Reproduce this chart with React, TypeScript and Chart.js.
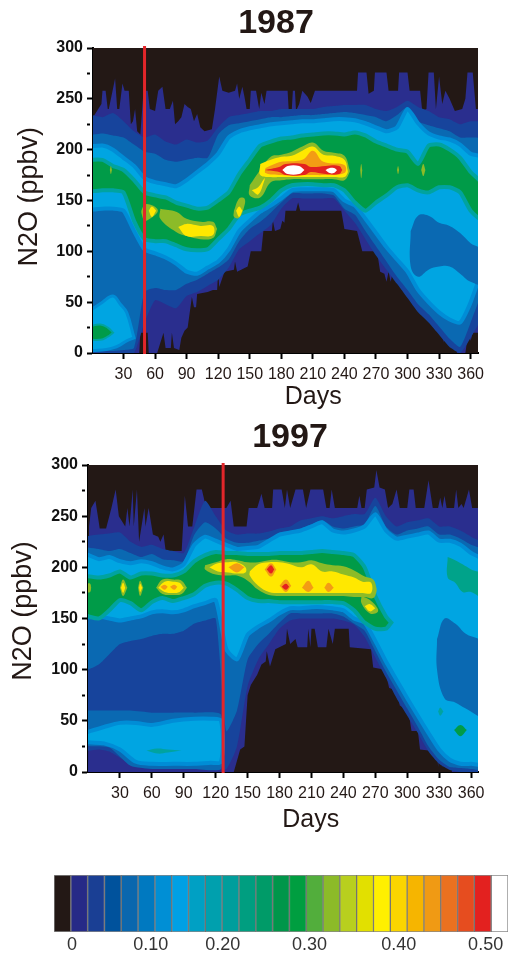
import React, { useEffect, useRef } from "react";
import { Chart, registerables } from "chart.js";

Chart.register(...registerables);

const FONT = "'Liberation Sans', Arial, sans-serif";
const INK = "#231815";

const dayTicks = [30, 60, 90, 120, 150, 180, 210, 240, 270, 300, 330, 360];
const gridDays = [-4, 10, 20, 30, 40, 50, 60, 70, 80, 90, 100, 110, 120, 130, 140, 150, 160, 170, 180, 190, 200, 210, 220, 230, 240, 250, 260, 270, 280, 290, 300, 310, 320, 330, 340, 350, 360, 372];

const COLOR = {
  black: "#231815", navy: "#2a2e8e", deep: "#17449c", mid: "#0a69b2", sky: "#00a5e2", skyEdge: "#008dd6",
  green: "#009b48", teal: "#00a3a0", lime: "#8cbb28", yellow: "#ffe800", orange: "#f39c14", red: "#e3211f", white: "#ffffff",
};

// 1987 contour bands
const navyTopDays87 = [1, 3, 9, 10, 13, 15, 16, 22, 24, 26, 29, 31, 35, 37, 39, 41, 43, 46, 49, 53, 55, 60, 63, 67, 70, 74, 77, 79, 82, 85, 88, 91, 94, 97, 100, 103, 107, 114, 117, 121, 124, 130, 136, 138, 140, 143, 145, 147, 150, 151, 156, 159, 161, 164, 166, 186, 187, 190, 191, 193, 194, 197, 200, 205, 208, 212, 252, 253, 261, 263, 268, 269, 280, 282, 291, 292, 300, 302, 312, 314, 318, 320, 325, 327, 330, 333, 336, 340, 345, 352, 355, 357, 362, 365, 367];
const navyTop87 = [232, 235, 245, 258, 258, 240, 240, 270, 240, 240, 265, 258, 258, 225, 228, 240, 218, 215, 258, 258, 240, 238, 258, 262, 240, 240, 248, 225, 228, 232, 245, 242, 240, 228, 235, 222, 218, 220, 240, 272, 258, 256, 258, 265, 250, 262, 252, 240, 240, 258, 258, 240, 256, 245, 258, 258, 240, 240, 258, 258, 238, 245, 258, 252, 246, 258, 258, 276, 276, 255, 258, 276, 276, 258, 258, 276, 276, 258, 258, 238, 240, 276, 276, 240, 272, 245, 258, 250, 238, 240, 250, 276, 276, 240, 240];
const navyBottomDays87 = [1, 45, 46, 53, 54, 62, 68, 70, 75, 76, 78, 83, 85, 88, 91, 95, 97, 99, 100, 110, 115, 119, 120, 121, 126, 135, 136, 138, 148, 151, 161, 163, 171, 172, 174, 179, 181, 183, 184, 194, 196, 198, 237, 240, 252, 257, 271, 274, 278, 280, 282, 284, 286, 294, 296, 298, 300, 311, 316, 324, 325, 327, 329, 333, 334, 335, 338, 340, 341, 343, 345, 347, 355, 358, 360, 362, 367];
const navyBottom87 = [0, 0, 20, 20, 0, 0, 20, 5, 5, 20, 5, 3, 15, 22, 25, 55, 45, 45, 58, 60, 62, 62, 80, 65, 80, 82, 90, 80, 85, 100, 100, 120, 120, 130, 120, 122, 130, 128, 140, 140, 148, 140, 140, 122, 120, 100, 100, 80, 78, 70, 80, 70, 80, 80, 65, 80, 60, 60, 40, 40, 25, 38, 20, 20, 10, 20, 20, 5, 18, 5, 20, 0, 0, 22, 12, 20, 20];

const deepTop87 = [235, 232, 236, 228, 218, 212, 215, 208, 205, 210, 207, 209, 222, 232, 234, 236, 238, 238, 240, 240, 240, 240, 242, 243, 244, 244, 244, 240, 238, 242, 248, 242, 238, 232, 230, 225, 228, 226];
const deepBottom87 = [0, 0, 0, 0, 0, 30, 52, 48, 44, 56, 60, 66, 72, 84, 102, 110, 118, 126, 142, 152, 152, 152, 152, 152, 140, 128, 112, 96, 82, 68, 54, 40, 30, 18, 6, 0, 15, 40];
const midTop87 = [214, 216, 214, 212, 205, 198, 196, 190, 188, 190, 192, 192, 215, 224, 226, 228, 230, 232, 232, 233, 234, 234, 235, 236, 237, 236, 234, 232, 228, 234, 242, 228, 224, 221, 218, 212, 212, 210];
const midBottom87 = [2, 2, 2, 3, 5, 60, 64, 62, 62, 68, 72, 78, 84, 92, 110, 122, 129, 138, 148, 157, 157, 157, 157, 155, 142, 136, 120, 105, 90, 75, 62, 48, 38, 26, 14, 6, 30, 68];
const skyTop87 = [203, 204, 200, 192, 184, 172, 168, 166, 164, 170, 178, 186, 196, 212, 218, 221, 223, 225, 226, 227, 228, 228, 229, 230, 230, 229, 226, 222, 218, 222, 240, 226, 216, 212, 210, 205, 196, 192];
const skyBottom87 = [142, 142, 142, 140, 120, 102, 98, 94, 88, 80, 78, 84, 90, 102, 120, 130, 139, 145, 152, 160, 161, 161, 161, 160, 150, 145, 132, 118, 104, 92, 80, 62, 50, 40, 33, 30, 50, 90];
const greenTop87 = [190, 190, 184, 180, 170, 158, 155, 153, 148, 145, 142, 143, 150, 158, 176, 190, 204, 208, 211, 212, 214, 215, 216, 216, 215, 217, 214, 208, 204, 200, 198, 186, 204, 205, 200, 192, 178, 165];
const greenBottom87 = [160, 160, 160, 158, 130, 112, 110, 110, 106, 102, 101, 102, 112, 122, 136, 140, 143, 150, 160, 165, 166, 166, 165, 165, 160, 148, 140, 148, 155, 163, 165, 160, 158, 163, 163, 158, 140, 130];

const holeDays87 = [303, 310, 320, 330, 340, 350, 360, 372];
const holeTop87 = [120, 135, 135, 128, 125, 118, 108, 100];
const holeBottom87 = [85, 75, 82, 85, 85, 78, 70, 68];
const lowSkyDays87 = [-4, 10, 20, 27, 33, 40];
const lowSkyTop87 = [40, 50, 56, 48, 40, 15];
const lowSkyBottom87 = [5, 3, 5, 8, 12, 15];
const lowGreenDays87 = [-4, 8, 15, 20];
const lowGreenTop87 = [26, 28, 25, 20];
const lowGreenBottom87 = [15, 13, 16, 20];

const blobs87: [keyof typeof COLOR, number[], number[], number[]][] = [
  ["lime", [47, 50, 55, 62], [140, 146, 146, 142], [138, 130, 132, 138]],
  ["yellow", [54, 57, 61], [140, 144, 140], [140, 134, 140]],
  ["lime", [65, 80, 90, 103, 115, 119], [142, 139, 132, 129, 129, 122], [132, 119, 115, 112, 113, 122]],
  ["yellow", [82, 90, 103, 115], [124, 127, 125, 125], [124, 115, 115, 116]],
  ["lime", [135, 140, 145], [140, 152, 152], [134, 133, 145]],
  ["yellow", [137, 140, 143], [140, 144, 140], [140, 134, 140]],
  ["lime", [150, 160, 170, 180, 190, 200, 210, 220, 230, 240, 245], [165, 180, 193, 195, 198, 203, 207, 199, 197, 194, 180], [155, 153, 168, 170, 171, 171, 171, 171, 171, 170, 178]],
  ["yellow", [152, 158, 164], [160, 163, 172], [160, 156, 170]],
  ["yellow", [160, 170, 180, 190, 200, 210, 220, 230, 240, 243], [186, 190, 193, 194, 199, 203, 195, 194, 190, 180], [175, 173, 173, 173, 173, 173, 173, 173, 173, 177]],
  ["orange", [165, 180, 200, 210, 220, 240], [182, 188, 190, 199, 188, 185], [177, 175, 175, 175, 175, 177]],
  ["red", [164, 178, 184, 202, 208, 222, 235, 238], [180, 183, 186, 186, 183, 184, 184, 180], [180, 178, 175, 175, 178, 176, 176, 180]],
  ["white", [181, 186, 197, 202], [180, 184, 184, 180], [180, 176, 176, 180]],
  ["white", [222, 226, 230, 233], [180, 182, 182, 180], [180, 177, 177, 180]],
  ["lime", [17, 18, 19], [180, 184, 180], [180, 176, 180]],
  ["lime", [255, 256, 257], [180, 186, 180], [180, 172, 180]],
  ["lime", [290, 291, 292], [180, 184, 180], [180, 176, 180]],
  ["lime", [313, 315, 317], [180, 186, 180], [180, 174, 180]],
];

const redDay87 = [50, 50];
const redDay97 = [127, 127];
const redValues = [-1, 302];

// 1997 contour bands
const navyTopDays97 = [1, 3, 7, 10, 11, 17, 22, 26, 29, 35, 37, 39, 42, 43, 46, 48, 53, 54, 57, 61, 66, 68, 71, 73, 88, 91, 94, 98, 102, 107, 111, 130, 134, 137, 149, 151, 159, 163, 166, 173, 174, 182, 185, 187, 190, 195, 202, 205, 209, 221, 224, 227, 229, 232, 253, 255, 257, 260, 262, 269, 271, 274, 279, 282, 286, 290, 293, 300, 302, 306, 308, 316, 320, 324, 329, 331, 333, 335, 337, 344, 346, 348, 351, 353, 358, 361, 367];
const navyTop97 = [240, 258, 265, 245, 238, 238, 258, 276, 250, 240, 258, 240, 276, 240, 276, 225, 258, 240, 258, 232, 230, 225, 232, 216, 216, 270, 240, 240, 276, 276, 258, 258, 265, 240, 240, 258, 258, 272, 258, 258, 276, 276, 258, 276, 258, 276, 276, 258, 276, 276, 258, 258, 276, 258, 258, 270, 258, 258, 276, 278, 295, 278, 276, 258, 262, 276, 258, 258, 276, 276, 258, 258, 285, 258, 258, 268, 258, 270, 258, 258, 276, 258, 262, 258, 276, 258, 258];
const navyBottomDays97 = [0, 137, 143, 147, 150, 153, 159, 163, 167, 168, 171, 176, 186, 187, 190, 195, 197, 206, 207, 209, 210, 213, 216, 224, 226, 230, 232, 245, 246, 266, 268, 279, 283, 290, 293, 301, 304, 310, 312, 328, 329, 330, 333, 334, 337, 338, 340, 342, 367];
const navyBottom97 = [0, 0, 22, 25, 75, 85, 95, 105, 108, 118, 103, 120, 125, 140, 125, 130, 122, 122, 140, 122, 140, 140, 122, 122, 140, 125, 140, 140, 122, 120, 102, 100, 82, 80, 65, 60, 40, 40, 22, 20, 5, 20, 5, 20, 5, 20, 20, 0, 0];

const deepTop97 = [230, 232, 233, 234, 225, 220, 222, 218, 216, 214, 240, 265, 250, 236, 232, 233, 233, 235, 238, 240, 246, 248, 250, 248, 250, 252, 252, 268, 250, 240, 244, 246, 248, 240, 240, 236, 230, 222];
const deepBottom97 = [22, 22, 20, 14, 8, 4, 3, 3, 3, 3, 3, 3, 3, 3, 25, 84, 110, 125, 140, 148, 150, 150, 150, 150, 148, 144, 132, 112, 92, 72, 55, 38, 20, 8, 2, 0, 0, 0];
const midTop97 = [220, 218, 216, 218, 214, 210, 213, 208, 207, 206, 232, 244, 238, 228, 224, 224, 226, 228, 232, 234, 238, 242, 246, 240, 238, 240, 242, 260, 240, 232, 236, 238, 240, 232, 232, 228, 222, 216];
const midBottom97 = [100, 105, 115, 125, 128, 130, 133, 135, 135, 138, 145, 148, 150, 40, 60, 110, 125, 135, 146, 155, 155, 155, 155, 155, 152, 145, 138, 118, 98, 80, 62, 44, 25, 12, 5, 4, 3, 3];
const skyTop97 = [214, 208, 210, 206, 204, 206, 204, 200, 198, 203, 222, 230, 226, 222, 218, 219, 220, 226, 232, 234, 236, 240, 244, 236, 234, 236, 240, 252, 236, 228, 230, 232, 234, 226, 226, 222, 214, 206];
const skyBottom97 = [152, 152, 150, 148, 150, 152, 156, 157, 156, 158, 162, 165, 168, 120, 110, 134, 142, 148, 155, 160, 160, 161, 161, 160, 158, 150, 146, 128, 108, 90, 72, 55, 38, 22, 12, 8, 8, 8];
const greenDays97 = [-4, 10, 20, 30, 40, 50, 60, 70, 80, 90, 100, 110, 120, 130, 140, 150, 160, 170, 180, 190, 200, 210, 220, 230, 240, 250, 260, 270, 280, 285];
const greenTop97 = [192, 190, 192, 196, 190, 194, 194, 192, 192, 196, 206, 212, 215, 214, 214, 213, 213, 213, 214, 214, 214, 215, 216, 215, 214, 212, 200, 172, 152, 146];
const greenBottom97 = [155, 150, 158, 168, 165, 158, 166, 170, 167, 170, 174, 182, 185, 184, 178, 170, 167, 167, 166, 166, 166, 166, 166, 166, 165, 158, 146, 140, 140, 146];

const holeDays97 = [328, 335, 345, 355, 372];
const holeTop97 = [130, 150, 145, 135, 125];
const holeBottom97 = [100, 72, 68, 62, 55];
const lowMidDays97 = [-4, 20, 40, 60, 80, 100, 125];
const lowMidTop97 = [60, 60, 60, 58, 58, 58, 56];
const lowMidBottom97 = [27, 24, 6, 3, 3, 3, 3];
const lowSkyDays97 = [-4, 15, 30, 45, 60, 80, 100, 115, 125];
const lowSkyTop97 = [38, 44, 48, 48, 46, 50, 52, 52, 50];
const lowSkyBottom97 = [30, 28, 22, 10, 8, 8, 8, 9, 10];
const sideGreenDays97 = [338, 345, 352, 360, 372];
const sideGreenTop97 = [210, 207, 203, 198, 192];
const sideGreenBottom97 = [190, 185, 176, 176, 170];

const blobs97: [keyof typeof COLOR, number[], number[], number[]][] = [
  ["teal", [55, 65, 75, 88], [21, 23, 22, 21], [21, 18, 19, 21]],
  ["teal", [329, 331, 334], [59, 63, 59], [59, 55, 59]],
  ["green", [344, 350, 356], [41, 46, 41], [41, 35, 41]],
  ["lime", [-2, 2, 3], [184, 184, 180], [176, 176, 180]],
  ["lime", [30, 33, 37], [180, 188, 180], [180, 172, 180]],
  ["yellow", [31, 33, 35], [180, 185, 180], [180, 175, 180]],
  ["lime", [47, 49, 52], [180, 187, 180], [180, 172, 180]],
  ["yellow", [48, 49, 51], [180, 184, 180], [180, 176, 180]],
  ["lime", [64, 70, 80, 88, 93], [180, 188, 188, 187, 180], [180, 174, 173, 174, 180]],
  ["yellow", [66, 72, 80, 86, 90], [180, 186, 186, 185, 180], [180, 176, 175, 176, 180]],
  ["orange", [68, 72, 75], [181, 183, 181], [181, 178, 181]],
  ["orange", [77, 81, 84], [181, 183, 181], [181, 178, 181]],
  ["lime", [110, 120, 130, 140, 150, 160, 170, 180, 190, 200, 210, 220, 230, 240, 250, 260, 268, 271], [202, 205, 208, 207, 205, 205, 207, 207, 205, 205, 207, 204, 202, 201, 197, 191, 188, 180], [198, 193, 192, 192, 187, 178, 173, 172, 172, 172, 172, 172, 172, 172, 171, 171, 170, 176]],
  ["lime", [257, 265, 272], [172, 168, 160], [165, 155, 156]],
  ["yellow", [260, 265, 270], [162, 164, 160], [162, 157, 160]],
  ["yellow", [114, 122, 132, 140, 148], [200, 204, 205, 205, 200], [200, 196, 195, 194, 195]],
  ["yellow", [152, 160, 170, 180, 190, 200, 210, 220, 230, 240, 250, 258, 266], [196, 203, 205, 205, 203, 200, 203, 196, 196, 193, 190, 186, 185], [192, 182, 176, 175, 175, 175, 175, 175, 175, 175, 175, 175, 175]],
  ["orange", [132, 140, 147], [200, 204, 200], [200, 195, 200]],
  ["orange", [166, 172, 177], [198, 204, 198], [198, 191, 198]],
  ["orange", [180, 186, 191], [182, 188, 182], [182, 176, 182]],
  ["orange", [201, 207, 212], [180, 187, 180], [180, 176, 180]],
  ["orange", [222, 226, 231], [180, 185, 180], [180, 176, 180]],
  ["red", [168, 172, 175], [198, 202, 198], [198, 194, 198]],
  ["red", [182, 186, 189], [181, 184, 181], [181, 178, 181]],
];

const scaleColors = ["#231815", "#262a87", "#1a3f94", "#00529c", "#0a67ae", "#0079c0", "#008fd5", "#00a0e4", "#00a0c4", "#00a0ae", "#009e9c", "#009e80", "#009b68", "#00964a", "#009e40", "#52ae3c", "#8cbb28", "#b8cf1e", "#e2e000", "#fff000", "#fbd500", "#f6b500", "#f09a14", "#ea7120", "#e64d1f", "#e3211f", "#ffffff"];
const scaleTickSlots = [1.07, 5.76, 10.04, 15.2, 20.5, 25.67];
const scaleTickLabels = ["0", "0.10", "0.20", "0.30", "0.40", "0.50"];

function band(color: string, topDays: number[], top: number[], bottomDays: number[], bottom: number[], edge?: string, edgeWidth = 0, tension = 0) {
  const upper = topDays.map((x, i) => ({ x, y: top[i] }));
  const lower = bottomDays.map((x, i) => ({ x, y: bottom[i] })).reverse();
  return {
    data: [...upper, ...lower, upper[0]],
    fill: "shape",
    backgroundColor: color,
    borderColor: edge ?? color,
    borderWidth: edge ? edgeWidth : 0,
    pointRadius: 0,
    tension,
  };
}

function redLine(days: number[]) {
  return {
    data: days.map((x, i) => ({ x, y: redValues[i] })),
    fill: false,
    borderColor: "#e2262a",
    borderWidth: 3,
    pointRadius: 0,
    clip: false,
  };
}

const blobLayers = (blobs: typeof blobs87) => blobs.map(([c, d, t, b]) => band(COLOR[c], d, t, d, b, undefined, 0, 0.4));

const layers87 = [
  band(COLOR.black, [-4, 372], [300, 300], [-4, 372], [0, 0]),
  band(COLOR.navy, navyTopDays87, navyTop87, navyBottomDays87, navyBottom87),
  band(COLOR.deep, gridDays, deepTop87, gridDays, deepBottom87, undefined, 0, 0.2),
  band(COLOR.mid, gridDays, midTop87, gridDays, midBottom87, undefined, 0, 0.2),
  band(COLOR.sky, gridDays, skyTop87, gridDays, skyBottom87, COLOR.skyEdge, 4, 0.2),
  band(COLOR.mid, holeDays87, holeTop87, holeDays87, holeBottom87, undefined, 0, 0.4),
  band(COLOR.sky, lowSkyDays87, lowSkyTop87, lowSkyDays87, lowSkyBottom87, COLOR.skyEdge, 3, 0.4),
  band(COLOR.green, lowGreenDays87, lowGreenTop87, lowGreenDays87, lowGreenBottom87, COLOR.teal, 2, 0.4),
  band(COLOR.green, gridDays, greenTop87, gridDays, greenBottom87, COLOR.teal, 4, 0.2),
  ...blobLayers(blobs87),
  redLine(redDay87),
];

const layers97 = [
  band(COLOR.black, [-4, 372], [300, 300], [-4, 372], [0, 0]),
  band(COLOR.navy, navyTopDays97, navyTop97, navyBottomDays97, navyBottom97),
  band(COLOR.deep, gridDays, deepTop97, gridDays, deepBottom97, undefined, 0, 0.2),
  band(COLOR.mid, gridDays, midTop97, gridDays, midBottom97, undefined, 0, 0.2),
  band(COLOR.sky, gridDays, skyTop97, gridDays, skyBottom97, COLOR.skyEdge, 4, 0.2),
  band(COLOR.mid, holeDays97, holeTop97, holeDays97, holeBottom97, undefined, 0, 0.4),
  band(COLOR.mid, lowMidDays97, lowMidTop97, lowMidDays97, lowMidBottom97, undefined, 0, 0.2),
  band(COLOR.sky, lowSkyDays97, lowSkyTop97, lowSkyDays97, lowSkyBottom97, COLOR.skyEdge, 4, 0.3),
  band(COLOR.green, greenDays97, greenTop97, greenDays97, greenBottom97, COLOR.teal, 4, 0.2),
  band("#00a38a", sideGreenDays97, sideGreenTop97, sideGreenDays97, sideGreenBottom97, undefined, 0, 0.4),
  ...blobLayers(blobs97),
  redLine(redDay97),
];

type PanelProps = {
  title: string; layers: any[]; minDay: number; maxDay: number; top: number; width: number; height: number;
  axisWidth: number; axisHeight: number; rightPad: number; titleTop: number; titleBottom: number; yTitlePad: number; xTitlePad: number; yText: string;
};

function Panel(p: PanelProps) {
  const ref = useRef<HTMLCanvasElement>(null);
  useEffect(() => {
    const chart = new Chart(ref.current!, {
      type: "line",
      data: { datasets: [...p.layers].reverse() as any },
      options: {
        responsive: false,
        animation: false,
        plugins: {
          legend: { display: false },
          tooltip: { enabled: false },
          title: { display: true, text: p.title, color: INK, font: { family: FONT, size: 34, weight: "bold", lineHeight: 1.2 }, padding: { top: p.titleTop, bottom: p.titleBottom } },
        },
        scales: {
          x: {
            type: "linear", min: p.minDay, max: p.maxDay,
            afterBuildTicks: (s: any) => { s.ticks = dayTicks.map((value) => ({ value })); },
            afterFit: (s: any) => { s.height = p.axisHeight; },
            grid: { drawOnChartArea: false, color: "#000", tickLength: 6, tickWidth: 2 },
            border: { color: "#000", width: 2 },
            ticks: { color: INK, autoSkip: false, maxRotation: 0, padding: 6, font: { family: FONT, size: 16 }, callback: (v: any) => String(v) },
            title: { display: true, text: "        Days", color: INK, font: { family: FONT, size: 25, lineHeight: 1.2 }, padding: { top: 0, bottom: p.xTitlePad } },
          },
          y: {
            min: 0, max: 300,
            afterFit: (s: any) => { s.width = p.axisWidth; },
            grid: {
              drawOnChartArea: false, color: "#000", tickLength: 6, tickWidth: 2,
              tickBorderDash: (c: any) => (c.tick && c.tick.value % 50 !== 0 ? [3, 6] : []),
            } as any,
            border: { color: "#000", width: 2 },
            ticks: { stepSize: 25, color: "#111", padding: 4, font: { family: FONT, size: 16, weight: "bold" }, callback: (v: any) => (Number(v) % 50 === 0 ? String(v) : "") },
            title: { display: true, text: p.yText, color: INK, font: { family: FONT, size: 27, lineHeight: 1.2 }, padding: { top: p.yTitlePad, bottom: 0 } },
          },
          spacer: {
            position: "right", min: 0, max: 300,
            afterFit: (s: any) => { s.width = p.rightPad; },
            grid: { display: false },
            border: { display: false },
            ticks: { display: false },
          },
        },
      } as any,
    });
    return () => chart.destroy();
  }, []);
  return <canvas ref={ref} width={p.width} height={p.height} style={{ position: "absolute", left: 0, top: p.top, display: "block" }} />;
}

function ColorScale() {
  const ref = useRef<HTMLCanvasElement>(null);
  useEffect(() => {
    const chart = new Chart(ref.current!, {
      type: "bar",
      data: {
        labels: ["N2O"],
        datasets: scaleColors.map((c) => ({ data: [1], backgroundColor: c, borderColor: "rgba(40,40,40,0.55)", borderWidth: 1, borderSkipped: false, barPercentage: 1, categoryPercentage: 1 })),
      },
      options: {
        indexAxis: "y",
        responsive: false,
        animation: false,
        layout: { padding: { left: 54, top: 5 } },
        plugins: { legend: { display: false }, tooltip: { enabled: false } },
        scales: {
          y: { display: false, stacked: true },
          x: {
            stacked: true, type: "linear", min: 0, max: 27,
            afterBuildTicks: (s: any) => { s.ticks = scaleTickSlots.map((value) => ({ value })); },
            afterFit: (s: any) => { s.height = 22; },
            grid: { display: false, drawTicks: false },
            border: { display: false },
            ticks: { autoSkip: false, maxRotation: 0, color: "#333", padding: 2, font: { family: FONT, size: 18 }, callback: (_: any, i: number) => scaleTickLabels[i] },
          },
        },
      } as any,
    });
    return () => chart.destroy();
  }, []);
  return <canvas ref={ref} width={508} height={84} style={{ position: "absolute", left: 0, top: 870, display: "block" }} />;
}

export default function App() {
  return (
    <div style={{ position: "absolute", left: 0, top: 0, width: 508, height: 954, overflow: "hidden", background: "#fff", filter: "blur(0.5px)" }}>
      <Panel title="1987" layers={layers87} minDay={1} maxDay={367} top={0} width={552} height={415} axisWidth={93} axisHeight={62} rightPad={74} titleTop={3.6} titleBottom={3.6} yTitlePad={13} xTitlePad={3} yText=" N2O (ppbv)" />
      <Panel title="1997" layers={layers97} minDay={0} maxDay={366.5} top={415} width={580} height={421} axisWidth={88} axisHeight={64} rightPad={102} titleTop={2.6} titleBottom={6.6} yTitlePad={7} xTitlePad={1} yText="  N2O (ppbv)" />
      <ColorScale />
    </div>
  );
}
